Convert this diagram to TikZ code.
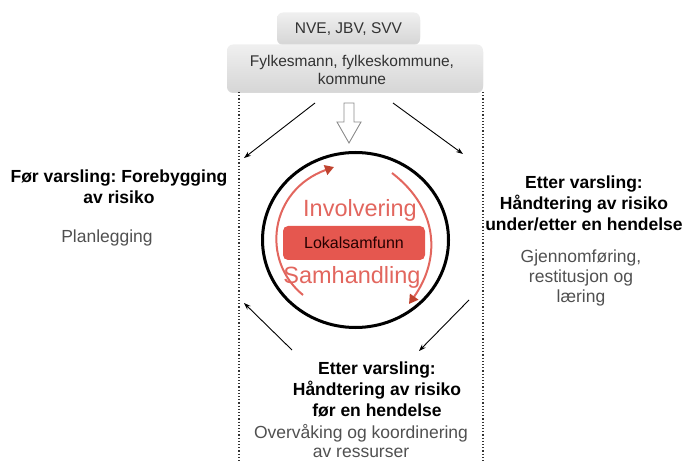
\documentclass[tikz,border=0pt]{standalone}
\usepackage{fontspec}
\setmainfont{Liberation Sans}
\usetikzlibrary{arrows.meta,shadows,shapes.geometric}
\definecolor{txtgray}{HTML}{505050}
\definecolor{redbox}{HTML}{E5574F}
\definecolor{redline}{HTML}{E2665E}
\definecolor{redhead}{HTML}{C0432F}
\frenchspacing
\begin{document}
\begin{tikzpicture}[x=1pt,y=-1pt,
  graybox/.style={rounded corners=6pt, top color=gray!12, bottom color=gray!32, draw=none, drop shadow={shadow xshift=0pt,shadow yshift=-1.5pt,opacity=0.3}},
  boldtxt/.style={font=\fontsize{17.5}{21}\selectfont\bfseries, align=center, text=black},
  normtxt/.style={font=\fontsize{17.5}{20}\selectfont, align=center, text=txtgray},
  blackarrow/.style={-{Stealth[length=7pt,width=5pt]}, line width=0.9pt, black},
  redarc/.style={redline, line width=2pt, -{Triangle[length=9pt,width=10pt,fill=redhead,color=redhead]}},
  dotline/.style={line width=1.2pt, dotted, black!80}
]
\useasboundingbox (0,0) rectangle (685,462);
% top boxes
\node[graybox, minimum width=143pt, minimum height=31pt] (nve) at (348.5,28) {};
\node[font=\fontsize{15.5}{18}\selectfont, text=black!80] (nvet) at (348.5,29) {NVE, JBV, SVV};
\node[graybox, minimum width=256pt, minimum height=47pt] (fyl) at (355,68) {};
\node[font=\fontsize{15.5}{18}\selectfont, text=black!80, align=center] (fylt) at (352,70) {Fylkesmann, fylkeskommune,\\kommune};
% dotted lines
\coordinate (dl1) at (239,92); \coordinate (dl2) at (239,462);
\coordinate (dr1) at (483,92); \coordinate (dr2) at (483,462);
\draw[dotline] (dl1) -- (dl2);
\draw[dotline] (dr1) -- (dr2);
% hollow arrow
\draw[black!45, line width=0.9pt, fill=white] (344,103) -- (354,103) -- (354,122) -- (361,122) -- (349,143) -- (337,122) -- (344,122) -- cycle;
% circle
\node[draw=black, line width=3pt, ellipse, minimum width=186pt, minimum height=175pt, inner sep=0pt] (circ) at (355.5,240) {};
% red box
\node[fill=redbox, rounded corners=5pt, minimum width=142pt, minimum height=34pt, font=\fontsize{16}{18}\selectfont, text=black!85!red] (lok) at (354,243) {Lokalsamfunn};
\node[font=\fontsize{23.5}{26}\selectfont, text=redline] (inv) at (360,210) {Involvering};
\node[font=\fontsize{23.5}{26}\selectfont, text=redline] (sam) at (352,277) {Samhandling};
% red arcs
\coordinate (la1) at (303,295); \coordinate (la2) at (334,167);
\coordinate (ra1) at (392,173); \coordinate (ra2) at (409,304);
\draw[redarc] (la1) .. controls (260,260) and (270,190) .. (la2);
\draw[redarc] (ra1) .. controls (440,210) and (440,260) .. (ra2);
% text blocks
\node[boldtxt] (lefth) at (119,187) {Før varsling: Forebygging\\av risiko};
\node[normtxt] (leftn) at (107,238) {Planlegging};
\node[boldtxt] (righth) at (584,203) {Etter varsling:\\Håndtering av risiko\\under/etter en hendelse};
\node[normtxt] (rightn) at (581,278) {Gjennomføring,\\restitusjon og\\læring};
\node[boldtxt] (both) at (377,389) {Etter varsling:\\Håndtering av risiko\\før en hendelse};
\node[normtxt, inner sep=0pt, font=\fontsize{17.5}{19}\selectfont] (botn) at (361,441) {Overvåking og koordinering\\av ressurser};
% black arrows
\coordinate (a1s) at (315,103); \coordinate (a1e) at (244,158);
\coordinate (a2s) at (393,103); \coordinate (a2e) at (463,154);
\coordinate (a3s) at (469,300); \coordinate (a3e) at (419,351);
\coordinate (a4s) at (292,350); \coordinate (a4e) at (244,303);
\draw[blackarrow] (a1s) -- (a1e);
\draw[blackarrow] (a2s) -- (a2e);
\draw[blackarrow] (a3s) -- (a3e);
\draw[blackarrow] (a4s) -- (a4e);
\end{tikzpicture}
\end{document}
